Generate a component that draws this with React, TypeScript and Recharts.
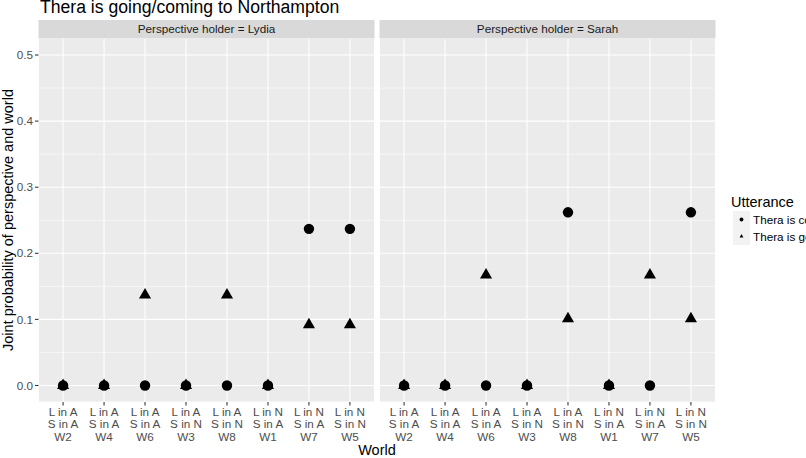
import React from "react";
import {
  ScatterChart,
  Scatter,
  XAxis,
  YAxis,
  CartesianGrid,
  ReferenceLine,
} from "recharts";

// worlds in plotting order, with Lydia's and Sarah's location for each
const worlds = ["W2", "W4", "W6", "W3", "W8", "W1", "W7", "W5"];
const lydiaLoc = ["L in A", "L in A", "L in A", "L in A", "L in A", "L in N", "L in N", "L in N"];
const sarahLoc = ["S in A", "S in A", "S in A", "S in N", "S in N", "S in A", "S in A", "S in N"];

// joint probability of perspective and world, per utterance
const lydiaComing = [0, 0, 0, 0, 0, 0, 0.237, 0.237];
const lydiaGoing = [0, 0, 0.137, 0, 0.137, 0, 0.092, 0.092];
const sarahComing = [0, 0, 0, 0, 0.262, 0, 0, 0.262];
const sarahGoing = [0, 0, 0.167, 0, 0.101, 0, 0.167, 0.101];

const yTicks = [0, 0.1, 0.2, 0.3, 0.4, 0.5];
const yMinor = [0.05, 0.15, 0.25, 0.35, 0.45];
const xTicks = worlds.map((_, i) => i);

const FONT = "'Liberation Sans', Arial, Helvetica, sans-serif";

const toPoints = (vals: number[]) => vals.map((v, i) => ({ x: i, y: v, world: worlds[i] }));

const CircleShape = (p: any) => <circle cx={p.cx} cy={p.cy} r={5.2} fill="#000" />;

const TriangleShape = (p: any) => {
  const { cx, cy } = p;
  return (
    <path
      d={`M${cx},${cy - 7} L${cx + 6.06},${cy + 3.5} L${cx - 6.06},${cy + 3.5} Z`}
      fill="#000"
    />
  );
};

const WorldTick = (props: any) => {
  const { x, y, payload } = props;
  const i = payload.value as number;
  return (
    <g transform={`translate(${x},${y})`}>
      <text textAnchor="middle" fill="#4D4D4D" fontSize={11.7} fontFamily={FONT}>
        <tspan x={0} y={8.2}>{lydiaLoc[i]}</tspan>
        <tspan x={0} y={20.8}>{sarahLoc[i]}</tspan>
        <tspan x={0} y={33.5}>{worlds[i]}</tspan>
      </text>
    </g>
  );
};

type PanelProps = {
  coming: number[];
  going: number[];
  showY: boolean;
  width: number;
  margin: { top: number; right: number; bottom: number; left: number };
};

const Panel = ({ coming, going, showY, width, margin }: PanelProps) => (
  <ScatterChart width={width} height={458} margin={margin}>
    <CartesianGrid fill="#EBEBEB" stroke="#FFFFFF" strokeWidth={1.07} />
    {yMinor.map((v) => (
      <ReferenceLine key={v} y={v} stroke="#FFFFFF" strokeWidth={0.53} />
    ))}
    <XAxis
      dataKey="x"
      type="number"
      domain={[-0.6, 7.6]}
      ticks={xTicks}
      interval={0}
      allowDataOverflow
      axisLine={false}
      tickLine={{ stroke: "#333333", strokeWidth: 1.07 }}
      tickSize={3.5}
      height={56}
      tick={<WorldTick />}
    />
    <YAxis
      dataKey="y"
      type="number"
      domain={[-0.025, 0.525]}
      ticks={yTicks}
      interval={0}
      allowDataOverflow
      hide={!showY}
      width={30}
      axisLine={false}
      tickLine={{ stroke: "#333333", strokeWidth: 1.07 }}
      tickSize={3.5}
      tickFormatter={(v: number) => v.toFixed(1)}
      tick={{ fill: "#4D4D4D", fontSize: 11.7, fontFamily: FONT }}
    />
    <Scatter
      name="Thera is coming to Northampton"
      data={toPoints(coming)}
      shape={<CircleShape />}
      isAnimationActive={false}
    />
    <Scatter
      name="Thera is going to Northampton"
      data={toPoints(going)}
      shape={<TriangleShape />}
      isAnimationActive={false}
    />
  </ScatterChart>
);

export default function App() {
  return (
    <div
      style={{
        position: "absolute",
        left: 0,
        top: 0,
        width: 806,
        height: 458,
        background: "#FFFFFF",
        overflow: "hidden",
        fontFamily: FONT,
      }}
    >
      <div style={{ position: "absolute", left: 0, top: 0 }}>
        <Panel
          coming={lydiaComing}
          going={lydiaGoing}
          showY
          width={380}
          margin={{ top: 38.5, right: 5.5, bottom: 0, left: 8.5 }}
        />
      </div>
      <div style={{ position: "absolute", left: 374, top: 0 }}>
        <Panel
          coming={sarahComing}
          going={sarahGoing}
          showY={false}
          width={350}
          margin={{ top: 38.5, right: 8.5, bottom: 0, left: 5.5 }}
        />
      </div>
      <svg
        width={806}
        height={458}
        style={{ position: "absolute", left: 0, top: 0, pointerEvents: "none" }}
        fontFamily={FONT}
      >
        <text x={40} y={13} fontSize={17.6} fill="#000">
          Thera is going/coming to Northampton
        </text>

        {/* facet strips */}
        <rect x={38.5} y={20} width={336} height={18.5} fill="#D9D9D9" />
        <rect x={379.5} y={20} width={336} height={18.5} fill="#D9D9D9" />
        <text x={206.5} y={33.3} textAnchor="middle" fontSize={11.7} fill="#1A1A1A">
          Perspective holder = Lydia
        </text>
        <text x={547.5} y={33.3} textAnchor="middle" fontSize={11.7} fill="#1A1A1A">
          Perspective holder = Sarah
        </text>

        {/* axis titles */}
        <text x={377} y={455} textAnchor="middle" fontSize={14.5} fill="#000">
          World
        </text>
        <text
          transform="translate(13,220) rotate(-90)"
          textAnchor="middle"
          fontSize={14.5}
          fill="#000"
        >
          Joint probability of perspective and world
        </text>

        {/* legend */}
        <text x={731} y={207} fontSize={14.5} fill="#000">
          Utterance
        </text>
        <rect x={733} y={211} width={17} height={17} fill="#F2F2F2" />
        <rect x={733} y={228} width={17} height={17} fill="#F2F2F2" />
        <circle cx={741.5} cy={219.5} r={1.9} fill="#000" />
        <path d="M741.5,234 L743.4,237.6 L739.6,237.6 Z" fill="#000" />
        <text x={753} y={223.5} fontSize={11.7} fill="#000">
          Thera is coming to Northampton
        </text>
        <text x={753} y={240.5} fontSize={11.7} fill="#000">
          Thera is going to Northampton
        </text>
      </svg>
    </div>
  );
}
